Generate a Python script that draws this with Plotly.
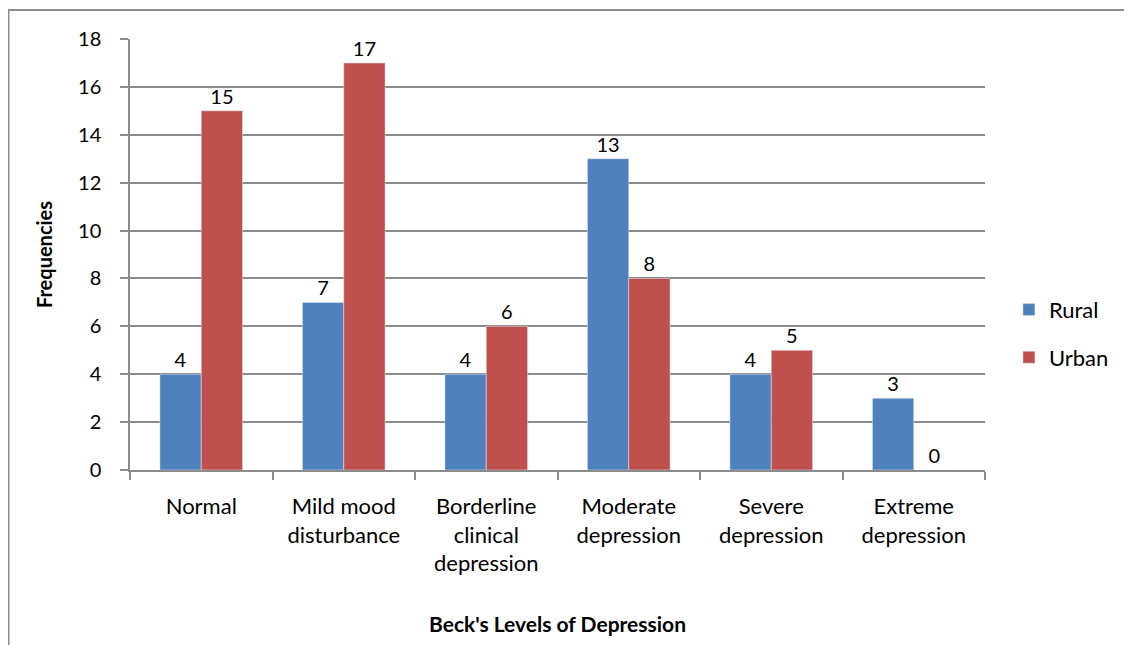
import plotly.graph_objects as go

categories = ["Normal", "Mild mood<br>disturbance", "Borderline<br>clinical<br>depression",
              "Moderate<br>depression", "Severe<br>depression", "Extreme<br>depression"]
rural = [4, 7, 4, 13, 4, 3]
urban = [15, 17, 6, 8, 5, 0]

FONT = "Lato"
GRID = "#8c8c8c"

fig = go.Figure()
fig.add_trace(go.Bar(name="Rural", x=categories, y=rural, marker_color="#4f81bd",
                     text=rural, textposition="outside", cliponaxis=False,
                     textfont=dict(size=20, color="black", family=FONT), legendgroup="a"))
fig.add_trace(go.Bar(name="Urban", x=categories, y=urban, marker_color="#c0504d",
                     text=urban, textposition="outside", cliponaxis=False,
                     textfont=dict(size=20, color="black", family=FONT), legendgroup="b"))

fig.update_layout(
    width=1124, height=637,
    margin=dict(l=122, r=147, t=31, b=175),
    paper_bgcolor="white", plot_bgcolor="white",
    barmode="group", bargap=0.42, bargroupgap=0,
    font=dict(family=FONT, size=20, color="black"),
    legend=dict(x=1.028, xanchor="left", y=0.316, yanchor="middle",
                font=dict(size=22, family=FONT), tracegroupgap=16),
    xaxis=dict(showline=True, linecolor=GRID, linewidth=1.5, ticks="outside",
               tickson="boundaries", ticklen=8, tickcolor=GRID, tickwidth=1.5,
               tickfont=dict(size=22, family=FONT), ticklabelstandoff=16,
               title=dict(text="<b>Beck's Levels of Depression</b>", font=dict(size=21, family=FONT),
                          standoff=42)),
    yaxis=dict(range=[0, 18], dtick=2, showgrid=True, gridcolor=GRID, gridwidth=1.5,
               showline=True, linecolor=GRID, linewidth=1.5, ticks="outside", ticklen=8,
               tickcolor=GRID, tickwidth=1.5, zeroline=False,
               tickfont=dict(size=20, family=FONT), ticklabelstandoff=15,
               title=dict(text="<b>Frequencies</b>", font=dict(size=20, family=FONT), standoff=20)),
)

fig.add_shape(type="rect", xref="paper", yref="paper", x0=-0.1421, y0=-0.6, x1=1.3, y1=1.0673,
              line=dict(color="#8c8c8c", width=2), layer="below")

fig.write_html("out.html")
